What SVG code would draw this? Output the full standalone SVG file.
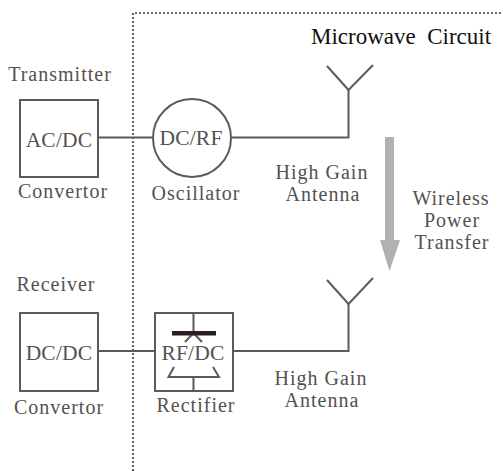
<svg xmlns="http://www.w3.org/2000/svg" width="503" height="471" viewBox="0 0 503 471">
<style>
.l{fill:none;stroke:#5f5a57;stroke-width:2}
.t{font-family:"Liberation Serif",serif;font-size:20px;fill:#555150;letter-spacing:1px;text-anchor:middle}
.u{font-size:21.500px;letter-spacing:.2px}
.d{fill:none;stroke:#666;stroke-width:2.200;stroke-dasharray:2 2}
</style>
<rect width="503" height="471" fill="#fff"/>
<g id="boundary"><path class="d" d="M133 471V13H503"/></g>
<text x="401" y="44" text-anchor="middle" font-family="'Liberation Serif',serif" font-size="23" fill="#111" xml:space="preserve" style="white-space:pre">Microwave  Circuit</text>
<g id="connectors">
<path class="l" d="M98 137.500H153M232 137.500H348.500V90"/>
<path class="l" d="M98 351H155M233 351H348.500V304"/>
<path fill="#b0b2b1" d="M385 137H394V240H400L389.500 271L380 240H385Z"/>
</g>
<g id="transmitter"><text class="t" x="60" y="81">Transmitter</text></g>
<g id="acdc"><rect class="l" x="20" y="100" width="78" height="77"/><text class="t u" x="59" y="147">AC/DC</text><text class="t" x="63" y="198">Convertor</text></g>
<g id="oscillator"><circle class="l" cx="192" cy="138" r="39"/><text class="t u" x="191" y="145">DC/RF</text><text class="t" x="196" y="200">Oscillator</text></g>
<g id="antenna-top"><path class="l" d="M327 66L348.500 90L373 65"/><text class="t" x="322" y="179">High Gain</text><text class="t" x="323" y="201">Antenna</text></g>
<g id="wpt"><text class="t" x="451" y="205">Wireless</text><text class="t" x="452" y="227">Power</text><text class="t" x="452" y="249">Transfer</text></g>
<g id="receiver"><text class="t" x="56" y="291">Receiver</text></g>
<g id="dcdc"><rect class="l" x="20" y="313" width="78" height="78"/><text class="t u" x="59" y="360">DC/DC</text><text class="t" x="59" y="414">Convertor</text></g>
<g id="rectifier"><rect class="l" x="155" y="313" width="78" height="78"/>
<path class="l" d="M193.500 313V333M185 342L193.500 333L202 342M174 367L168.500 377H219L213 367M193.500 377V391"/>
<rect x="172" y="331" width="44" height="4.500" fill="#2a2020"/>
<text class="t u" x="193" y="360" stroke="#fff" stroke-width="3" paint-order="stroke">RF/DC</text><text class="t" x="196" y="412">Rectifier</text></g>
<g id="antenna-bottom"><path class="l" d="M327 280L348.500 304L373 278"/><text class="t" x="321" y="385">High Gain</text><text class="t" x="322" y="407">Antenna</text></g>
</svg>
